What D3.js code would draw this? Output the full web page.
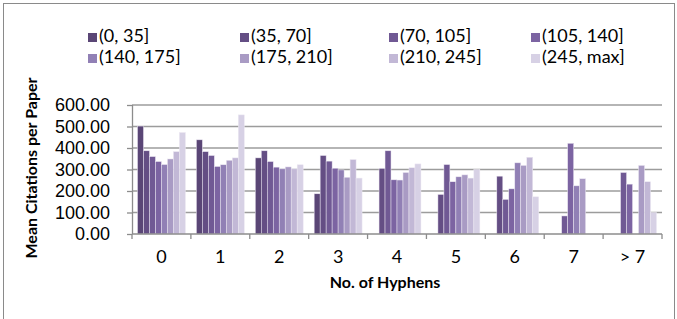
<!DOCTYPE html>
<html>
<head>
<meta charset="utf-8">
<title>Mean citations per paper by number of hyphens</title>
<script src="https://cdn.jsdelivr.net/npm/d3@7"></script>
<style>
body { margin: 0; background: #fff; }
svg { display: block; font-family: Lato, "Open Sans", sans-serif; }
.tick text { font-size: 18px; fill: #000; }
.grid line { stroke: #9c9c9c; stroke-width: 1.5; }
.axis path, .axis line { stroke: #8c8c8c; stroke-width: 1.3; }
.title { font-size: 16px; font-weight: 700; }
.legend text { font-size: 18px; }
</style>
</head>
<body>
<script>
// categories (number of hyphens)
const categories = ['0', '1', '2', '3', '4', '5', '6', '7', '> 7']
// series names (ranges)
const series = ['(0, 35]', '(35, 70]', '(70, 105]', '(105, 140]', '(140, 175]', '(175, 210]', '(210, 245]', '(245, max]']
const colors = ['#5a4676', '#644e84', '#705994', '#7c64a2', '#9180b5', '#a99bc4', '#c2b8d6', '#d7d1e5']

// mean citations per paper, one array per series (null = no bar)
const s0 = [502, 438, 354, 187, null, null, null, null, null]
const s1 = [387, 383, 387, 365, 305, 184, 269, null, null]
const s2 = [360, 365, 337, 339, 387, 323, 161, 84, 286]
const s3 = [337, 314, 311, 306, 252, 243, 210, 422, 232]
const s4 = [323, 322, 303, 298, 251, 266, 331, 224, null]
const s5 = [349, 343, 312, 264, 286, 275, 319, 257, 319]
const s6 = [383, 354, 303, 346, 308, 260, 357, null, 243]
const s7 = [472, 554, 322, 260, 326, 300, 173, null, 100]
const values = [s0, s1, s2, s3, s4, s5, s6, s7]

const yTicks = [0, 100, 200, 300, 400, 500, 600]

const W = 677, H = 319
const margin = { top: 105, right: 15, bottom: 85, left: 132 }
const width = W - margin.left - margin.right
const height = H - margin.top - margin.bottom

const svg = d3.select('body').append('svg')
    .attr('width', W)
    .attr('height', H)

// outer frame
svg.append('rect')
    .attr('x', 3.5).attr('y', 3.5)
    .attr('width', W - 6).attr('height', H + 10)
    .attr('fill', 'none')
    .attr('stroke', '#8a8a8a')
    .attr('stroke-width', 1)

const g = svg.append('g')
    .attr('transform', `translate(${margin.left}, ${margin.top})`)

const x0 = d3.scaleBand().domain(categories).range([0, width]).padding(0)
const x1 = d3.scaleBand().domain(d3.range(series.length))
    .range([5.5, x0.bandwidth() - 5.5]).padding(0)
const y = d3.scaleLinear().domain([0, 600]).range([height, 0])

// gridlines
g.append('g').attr('class', 'grid')
  .selectAll('line')
  .data(yTicks.slice(1))
  .enter().append('line')
    .attr('x1', 0).attr('x2', width)
    .attr('y1', d => y(d)).attr('y2', d => y(d))

// bars
const group = g.selectAll('.cat')
    .data(categories)
    .enter().append('g')
    .attr('class', 'cat')
    .attr('transform', d => `translate(${x0(d)}, 0)`)

group.selectAll('rect')
    .data((c, i) => values.map((s, k) => ({ k, v: s[i] })).filter(d => d.v != null))
    .enter().append('rect')
    .attr('x', d => x1(d.k))
    .attr('width', x1.bandwidth())
    .attr('y', d => y(d.v))
    .attr('height', d => y(0) - y(d.v))
    .attr('fill', d => colors[d.k])
    .attr('stroke', '#ece8f2')
    .attr('stroke-width', 0.5)

// y axis
g.append('g').attr('class', 'axis')
    .call(d3.axisLeft(y).tickValues(yTicks).tickFormat(d3.format('.2f')).tickSize(5).tickPadding(17))
    .call(a => a.select('.domain').attr('d', `M0.5,0V${height}`))

// x axis with ticks between categories
const xAxis = g.append('g').attr('class', 'axis')
    .attr('transform', `translate(0, ${height})`)
xAxis.append('line')
    .attr('x1', 0).attr('x2', width)
    .attr('y1', 0).attr('y2', 0)
xAxis.selectAll('.sep')
    .data(d3.range(categories.length + 1))
    .enter().append('line')
    .attr('x1', i => i * x0.step()).attr('x2', i => i * x0.step())
    .attr('y1', 0).attr('y2', 5)
xAxis.selectAll('.lbl')
    .data(categories)
    .enter().append('text')
    .attr('class', 'tick')
    .attr('x', d => x0(d) + x0.bandwidth() / 2)
    .attr('y', 29)
    .attr('text-anchor', 'middle')
    .style('font-size', '18px')
    .text(d => d)

// axis titles
svg.append('text')
    .attr('class', 'title')
    .attr('x', margin.left + width / 2 - 12)
    .attr('y', 288)
    .attr('text-anchor', 'middle')
    .text('No. of Hyphens')

svg.append('text')
    .attr('class', 'title')
    .attr('transform', 'translate(37, 168) rotate(-90)')
    .attr('text-anchor', 'middle')
    .text('Mean Citations per Paper')

// legend: 2 rows x 4 columns
const legendX = [88, 240, 389, 531]
const legendY = [42, 63]
const legend = svg.append('g').attr('class', 'legend')
    .selectAll('g')
    .data(series)
    .enter().append('g')
    .attr('transform', (d, i) => `translate(${legendX[i % 4]}, ${legendY[Math.floor(i / 4)]})`)
legend.append('rect')
    .attr('x', 0).attr('y', -9)
    .attr('width', 9).attr('height', 9)
    .attr('fill', (d, i) => colors[i])
legend.append('text')
    .attr('x', 11)
    .attr('y', 0)
    .text(d => d)
</script>
</body>
</html>
